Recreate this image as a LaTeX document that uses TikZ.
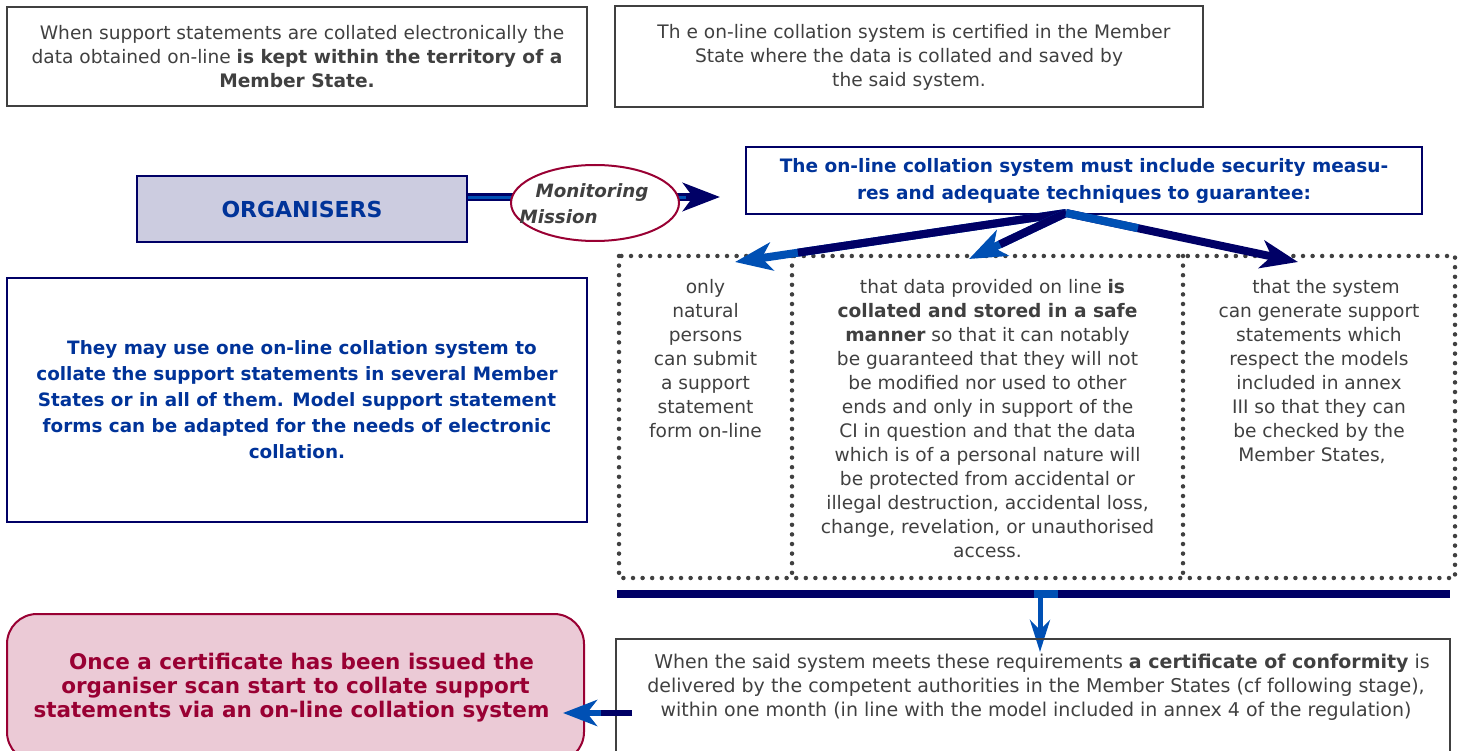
\documentclass[tikz,border=0pt]{standalone}
\usepackage{fontspec}
\setmainfont{DejaVu Sans}
\usepackage{xcolor}
\usetikzlibrary{arrows.meta,shapes.geometric,calc}

\definecolor{navy}{RGB}{0,0,102}
\definecolor{arrowblue}{RGB}{0,80,180}
\definecolor{textblue}{RGB}{0,51,153}
\definecolor{crimson}{RGB}{153,0,51}
\definecolor{rosefill}{RGB}{235,202,214}
\definecolor{lavender}{RGB}{204,204,224}
\definecolor{inkgray}{RGB}{64,64,64}

\begin{document}
\begin{tikzpicture}[
            x = 1pt, y = -1pt, % pixel grid, y runs downwards
            > = {Stealth[length=37pt, width=28pt, inset=10pt]}, % arrow head style
            semithick, % line style
            body/.style = {font=\fontsize{18.6}{24}\selectfont},
            boldbody/.style = {font=\fontsize{18.4}{26}\selectfont\bfseries},
            greybox/.style = {draw=inkgray, line width=2pt, text=inkgray, align=center, inner sep=0pt},
            bluebox/.style = {draw=navy, line width=2pt, text=textblue, align=center, inner sep=0pt},
            column/.style = {body, text=inkgray, align=center, anchor=north, inner sep=0pt},
            thickarrow/.style = {->, line width=8pt, draw=navy},
            dots/.style = {draw=inkgray, line width=4.5pt, line cap=round, dash pattern=on 0pt off 9.6pt}
        ]
\useasboundingbox (0,0) rectangle (1460,751);

% top row
\node[greybox, body, minimum width=580pt, minimum height=99pt] (kept) at (297,57) {\hspace*{10pt}When support statements are collated electronically the\\ data obtained on-line \textbf{is kept within the territory of a}\\ \textbf{Member State.}};
\node[greybox, body, minimum width=588pt, minimum height=101pt] (certified) at (909,57) {\hspace*{10pt}Th e on-line collation system is certified in the Member\\ State where the data is collated and saved by\\ the said system.};

% organisers and mission
\node[bluebox, fill=lavender, line width=2.5pt, minimum width=330pt, minimum height=66pt, font=\fontsize{22}{24}\selectfont\bfseries] (organisers) at (302,209) {ORGANISERS};
\node[bluebox, minimum width=676pt, minimum height=67pt, font=\fontsize{18.5}{27}\selectfont\bfseries] (guarantee) at (1084,181) {The on-line collation system must include security measu-\\ res and adequate techniques to guarantee:};
\coordinate (missiontip) at (720,197);
\path[thickarrow, line width=8pt] (organisers.east |- missiontip) -- (missiontip);
\draw[arrowblue, line width=3pt] ($(organisers.east |- missiontip)+(0,1)$) -- ($(missiontip)+(-34,1)$);
\node[ellipse, draw=crimson, fill=white, line width=2pt, minimum width=168pt, minimum height=76pt, inner sep=0pt] (mission) at (595,203) {};
\node[text=inkgray, align=left, inner sep=0pt, font=\fontsize{18.3}{26}\selectfont\bfseries\itshape] (missiontext) at (584,204) {\hspace*{16pt}Monitoring\\Mission};

% three requirements
\draw[dots] (619,256) rectangle (1455,578);
\draw[dots] (792,256) -- (792,578);
\draw[dots] (1183,256) -- (1183,578);

\coordinate (fork) at (1066,213);
\coordinate (onlytip) at (735,262);
\coordinate (safetip) at (969,259);
\coordinate (modeltip) at (1298,262);

\path[thickarrow, draw=arrowblue, fill=arrowblue] (fork) -- (onlytip);
\draw[navy, line width=8pt] (fork) -- ($(fork)!0.81!(onlytip)$);
\path[thickarrow, draw=arrowblue, fill=arrowblue] (fork) -- (safetip);
\draw[navy, line width=8pt] (fork) -- ($(fork)!0.68!(safetip)$);
\path[thickarrow] (fork) -- (modeltip);
\draw[arrowblue, line width=8pt] (fork) -- ($(fork)!0.31!(modeltip)$);

\node[column] (only) at (705.5,279) {only\\ natural\\ persons\\ can submit\\ a support\\ statement\\ form on-line};
\node[column] (safe) at (987.5,279) {\hspace*{10pt}that data provided on line \textbf{is}\\ \textbf{collated and stored in a safe}\\ \textbf{manner} so that it can notably\\ be guaranteed that they will not\\ be modified nor used to other\\ ends and only in support of the\\ CI in question and that the data\\ which is of a personal nature will\\ be protected from accidental or\\ illegal destruction, accidental loss,\\ change, revelation, or unauthorised\\ access.};
\node[column] (models) at (1319,279) {\hspace*{14pt}that the system\\ can generate support\\ statements which\\ respect the models\\ included in annex\\ III so that they can\\ be checked by the\\ Member States,\hspace*{14pt}};

% collection bar and certificate
\coordinate (barleft) at (617,594);
\coordinate (barright) at (1450,594);
\draw[navy, line width=8pt] (barleft) -- (barright);
\draw[arrowblue, line width=8pt] (1034,594) -- (1058,594);
\coordinate (certfrom) at (1040,598);
\coordinate (certtip) at (1040,652);
\path[->, draw=arrowblue, line width=5pt, >={Stealth[length=32pt, width=20pt, inset=10pt]}] (certfrom) -- (certtip);

\node[greybox, minimum width=834pt, minimum height=130pt, anchor=north] (conformity) at (1033,638) {};
\node[column, font=\fontsize{19}{24}\selectfont] (conformitytext) at (1036,654) {\hspace*{12pt}When the said system meets these requirements \textbf{a certificate of conformity} is\\ delivered by the competent authorities in the Member States (cf following stage),\\ within one month (in line with the model included in annex 4 of the regulation)};

% left column
\node[bluebox, boldbody, minimum width=580pt, minimum height=244pt] (several) at (297,400) {\hspace*{10pt}They may use one on-line collation system to\\ collate the support statements in several Member\\ States or in all of them. Model support statement\\ forms can be adapted for the needs of electronic\\ collation.};

\node[draw=crimson, fill=rosefill, line width=2pt, rounded corners=30pt, minimum width=577pt, minimum height=148pt, inner sep=0pt, text=crimson, align=center, font=\fontsize{21.5}{24}\selectfont\bfseries] (issued) at (295.5,688) {\hspace*{12pt}Once a certificate has been issued the\\ organiser scan start to collate support\\ statements via an on-line collation system\hspace*{8pt}};

\coordinate (scanfrom) at (632,713);
\coordinate (scantip) at (563,713);
\path[thickarrow, line width=6pt, draw=arrowblue, fill=arrowblue, >={Stealth[length=34pt, width=26pt, inset=10pt]}] (scanfrom) -- (scantip);
\draw[navy, line width=6pt] (scanfrom) -- ($(scanfrom)!0.45!(scantip)$);
\end{tikzpicture}
\end{document}
